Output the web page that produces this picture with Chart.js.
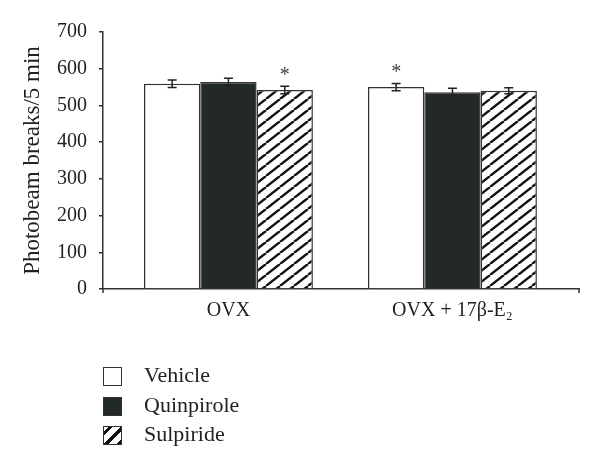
<!DOCTYPE html>
<html>
<head>
<meta charset="utf-8">
<script src="https://cdn.jsdelivr.net/npm/chart.js@4"></script>
<style>
    body { margin: 0; background: #fff; }
    #wrap { position: relative; width: 600px; height: 467px; }
    #legend { position: absolute; left: 103px; top: 366px; font: 22px 'Liberation Serif', serif; color: #222; }
    .row { position: relative; height: 29.5px; }
    .box { position: absolute; left: 0; top: 1px; width: 17px; height: 17px; border: 1.5px solid #333; }
    .lbl { position: absolute; left: 41px; top: -1px; line-height: 20px; }
</style>
</head>
<body>
<div id="wrap">
    <canvas id="chart" width="600" height="467"></canvas>
    <div id="legend"></div>
</div>
<script>
// Datos
const grupos = ['OVX', 'OVX + 17β-E₂'];
const series = ['Vehicle', 'Quinpirole', 'Sulpiride'];
const vehicle = [559, 550];
const quinpirole = [564, 536];
const sulpiride = [542, 540];
const vehicleErr = [10, 10];
const quinpiroleErr = [10, 11];
const sulpirideErr = [10, 8];
// asteriscos de significancia
const vehicleSig = [false, true];
const quinpiroleSig = [false, false];
const sulpirideSig = [true, false];
const yMax = 700;
const yStep = 100;

const fuente = "'Liberation Serif', serif";
const linea = '#333';

// patrón de rayas diagonales para Sulpiride
function crearRayado() {
    const c = document.createElement('canvas');
    c.width = 14;
    c.height = 11;
    const g = c.getContext('2d');
    g.fillStyle = '#fff';
    g.fillRect(0, 0, 14, 11);
    g.strokeStyle = '#111';
    g.lineWidth = 2.4;
    [-14, 0, 14].forEach(dx => {
        g.beginPath();
        g.moveTo(dx, 11);
        g.lineTo(dx + 14, 0);
        g.stroke();
    });
    return document.getElementById('chart').getContext('2d').createPattern(c, 'repeat');
}

const rellenos = ['#ffffff', '#232829', crearRayado()];

const barrasError = {
    id: 'barrasError',
    afterDatasetsDraw(chart) {
        const ctx = chart.ctx;
        const y = chart.scales.y;
        ctx.save();
        chart.data.datasets.forEach((ds, i) => {
            chart.getDatasetMeta(i).data.forEach((bar, j) => {
                const v = ds.data[j];
                const e = ds.errores[j];
                const yArriba = y.getPixelForValue(v + e);
                const yAbajo = y.getPixelForValue(v - e);
                ctx.strokeStyle = '#222';
                ctx.lineWidth = 1.5;
                ctx.beginPath();
                ctx.moveTo(bar.x, yArriba);
                ctx.lineTo(bar.x, yAbajo);
                ctx.moveTo(bar.x - 4.5, yArriba);
                ctx.lineTo(bar.x + 4.5, yArriba);
                ctx.moveTo(bar.x - 4.5, yAbajo);
                ctx.lineTo(bar.x + 4.5, yAbajo);
                ctx.stroke();
                if (ds.signif[j]) {
                    ctx.fillStyle = '#444';
                    ctx.font = '20px ' + fuente;
                    ctx.textAlign = 'center';
                    ctx.textBaseline = 'alphabetic';
                    ctx.fillText('*', bar.x, yArriba - 5);
                }
            });
        });
        // marcas en los extremos del eje x
        const x = chart.scales.x;
        ctx.strokeStyle = linea;
        ctx.lineWidth = 1.5;
        ctx.beginPath();
        ctx.moveTo(x.left, x.top);
        ctx.lineTo(x.left, x.top + 4);
        ctx.moveTo(x.right, x.top);
        ctx.lineTo(x.right, x.top + 4);
        ctx.stroke();
        ctx.restore();
    }
};

new Chart(document.getElementById('chart'), {
    type: 'bar',
    data: {
        labels: grupos,
        datasets: [
            { label: series[0], data: vehicle, errores: vehicleErr, signif: vehicleSig, backgroundColor: rellenos[0] },
            { label: series[1], data: quinpirole, errores: quinpiroleErr, signif: quinpiroleSig, backgroundColor: rellenos[1] },
            { label: series[2], data: sulpiride, errores: sulpirideErr, signif: sulpirideSig, backgroundColor: rellenos[2] }
        ].map(ds => Object.assign(ds, {
            borderColor: linea,
            borderWidth: 1.5,
            categoryPercentage: 0.754,
            barPercentage: 1
        }))
    },
    options: {
        responsive: false,
        animation: false,
        layout: { padding: { top: 32, right: 21, left: 0, bottom: 0 } },
        plugins: {
            legend: { display: false },
            tooltip: { enabled: false }
        },
        scales: {
            x: {
                afterFit: s => { s.height = 178; },
                // los grupos no están centrados en su categoría (estilo Excel)
                afterBuildTicks: s => { s._startValue = -0.56; s._valueRange = 2.125; },
                grid: { display: false },
                border: { display: true, color: linea, width: 1.5 },
                ticks: { color: '#222', padding: 2, font: { family: fuente, size: 20 } }
            },
            y: {
                min: 0,
                max: yMax,
                afterFit: s => { s.width = 103; },
                grid: { drawOnChartArea: false, drawTicks: true, tickLength: 4, color: linea, lineWidth: 1.5 },
                border: { display: true, color: linea, width: 1.5 },
                ticks: { stepSize: yStep, color: '#222', padding: 12, font: { family: fuente, size: 20 } },
                title: {
                    display: true,
                    text: 'Photobeam breaks/5 min',
                    color: '#222',
                    padding: { top: 19, bottom: 0 },
                    font: { family: fuente, size: 23 }
                }
            }
        }
    },
    plugins: [barrasError]
});

// Leyenda en HTML
const cajas = ['#fff', '#232829', 'repeating-linear-gradient(135deg, #fff 0 3px, #111 3px 6px, #fff 6px 9px)'];
document.getElementById('legend').innerHTML = series.map((s, i) =>
    `<div class="row"><div class="box" style="background:${cajas[i]}"></div><div class="lbl">${s}</div></div>`
).join('');
</script>
</body>
</html>
